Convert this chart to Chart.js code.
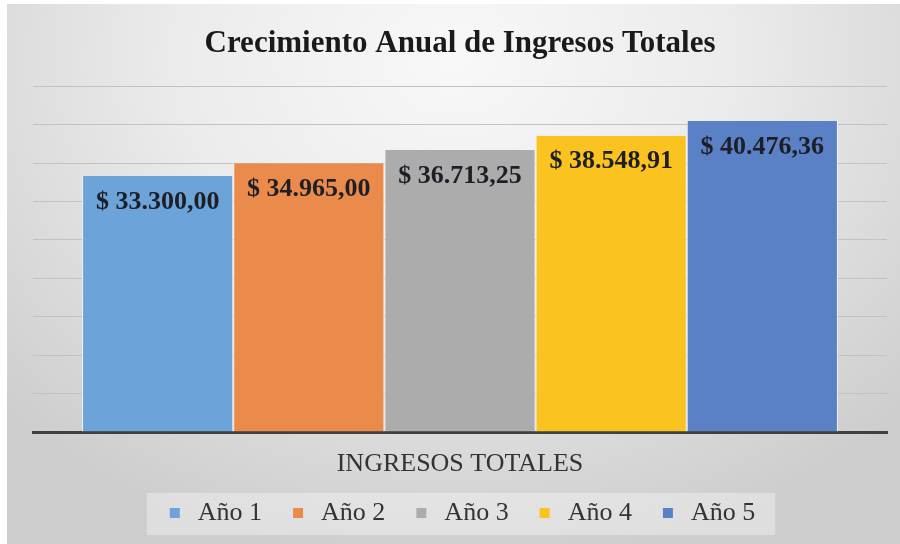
<!DOCTYPE html>
<html>
<head>
<meta charset="utf-8">
<script src="https://cdn.jsdelivr.net/npm/chart.js@4.4.0/dist/chart.umd.min.js"></script>
<style>
  html, body { margin: 0; padding: 0; background: #fff; }
  #frame {
    position: absolute; left: 7px; top: 4px; width: 893px; height: 540px;
    background: radial-gradient(ellipse 70% 95% at 50% 10%, #f8f8f8 0%, #ebebeb 45%, #cdcdcd 100%);
  }
  #chart { display: block; }
</style>
</head>
<body>
<div id="frame"><canvas id="chart" width="893" height="540"></canvas></div>
<script>
var categories = ['INGRESOS TOTALES'];
var seriesNames = ['Año 1', 'Año 2', 'Año 3', 'Año 4', 'Año 5'];
var seriesValues = [33300.00, 34965.00, 36713.25, 38548.91, 40476.36];
var seriesColors = ['#6ca3d8', '#ea8b4c', '#acacac', '#fbc320', '#5a80c6'];
var yMin = 0, yMax = 45000, yStep = 5000;

var serif = '"Liberation Serif", "Times New Roman", serif';

function money(v) {
    var parts = v.toFixed(2).split('.');
    var whole = parts[0].replace(/\B(?=(\d{3})+(?!\d))/g, '.');
    return '$ ' + whole + ',' + parts[1];
}

// value labels inside the top of each bar
var barLabels = {
    id: 'barLabels',
    afterDatasetsDraw: function(chart) {
        var ctx = chart.ctx;
        ctx.save();
        ctx.font = 'bold 26px ' + serif;
        ctx.fillStyle = '#1e1f26';
        ctx.textAlign = 'center';
        ctx.textBaseline = 'middle';
        chart.data.datasets.forEach(function(ds, i) {
            var bar = chart.getDatasetMeta(i).data[0];
            ctx.fillText(money(ds.data[0]), bar.x, bar.y + 26);
        });
        ctx.restore();
    }
};

// light panel behind the legend
var legendPanel = {
    id: 'legendPanel',
    beforeDraw: function(chart) {
        var hb = chart.legend.legendHitBoxes;
        if (!hb || !hb.length) return;
        var first = hb[0], last = hb[hb.length - 1];
        var x0 = first.left - 18, x1 = last.left + last.width + 20;
        var ctx = chart.ctx;
        ctx.save();
        ctx.fillStyle = 'rgba(255,255,255,0.35)';
        ctx.fillRect(x0, first.top - 7, x1 - x0, first.height + 16);
        ctx.restore();
    }
};

var ctx = document.getElementById('chart').getContext('2d');
var chart = new Chart(ctx, {
    type: 'bar',
    data: {
        labels: categories,
        datasets: seriesNames.map(function(name, i) {
            return {
                label: name,
                data: [seriesValues[i]],
                backgroundColor: seriesColors[i],
                borderColor: '#f3f3f3',
                borderWidth: {left: 1, right: 1, top: 0, bottom: 0},
                borderSkipped: false,
                categoryPercentage: 0.885,
                barPercentage: 1
            };
        })
    },
    options: {
        responsive: false,
        animation: false,
        events: [],
        layout: { padding: {left: 26, right: 13, top: 0, bottom: 8} },
        scales: {
            x: {
                grid: { display: true, color: 'rgba(0,0,0,0)', drawTicks: false },
                border: { display: true, color: '#404040', width: 3 },
                ticks: {
                    padding: 26,
                    color: '#333333',
                    font: { family: serif, size: 26, lineHeight: '12px' }
                },
                afterFit: function(scale) { scale.height = 42; }
            },
            y: {
                min: yMin, max: yMax,
                ticks: { display: false, stepSize: yStep },
                grid: { color: '#c2c2c2', lineWidth: 1, drawTicks: false },
                border: { display: false }
            }
        },
        plugins: {
            title: {
                display: true,
                text: 'Crecimiento Anual de Ingresos Totales',
                color: '#1a1a1a',
                font: { family: serif, size: 31, weight: 'bold' },
                padding: { top: 21, bottom: 24 }
            },
            legend: {
                position: 'bottom',
                labels: {
                    usePointStyle: true,
                    pointStyle: 'rect',
                    boxWidth: 20,
                    boxHeight: 10,
                    padding: 26,
                    color: '#333333',
                    font: { family: serif, size: 26 },
                    generateLabels: function(chart) {
                        return Chart.defaults.plugins.legend.labels.generateLabels(chart).map(function(l) {
                            l.lineWidth = 0;
                            l.strokeStyle = 'rgba(0,0,0,0)';
                            return l;
                        });
                    }
                }
            },
            tooltip: { enabled: false }
        }
    },
    plugins: [legendPanel, barLabels]
});
</script>
</body>
</html>
